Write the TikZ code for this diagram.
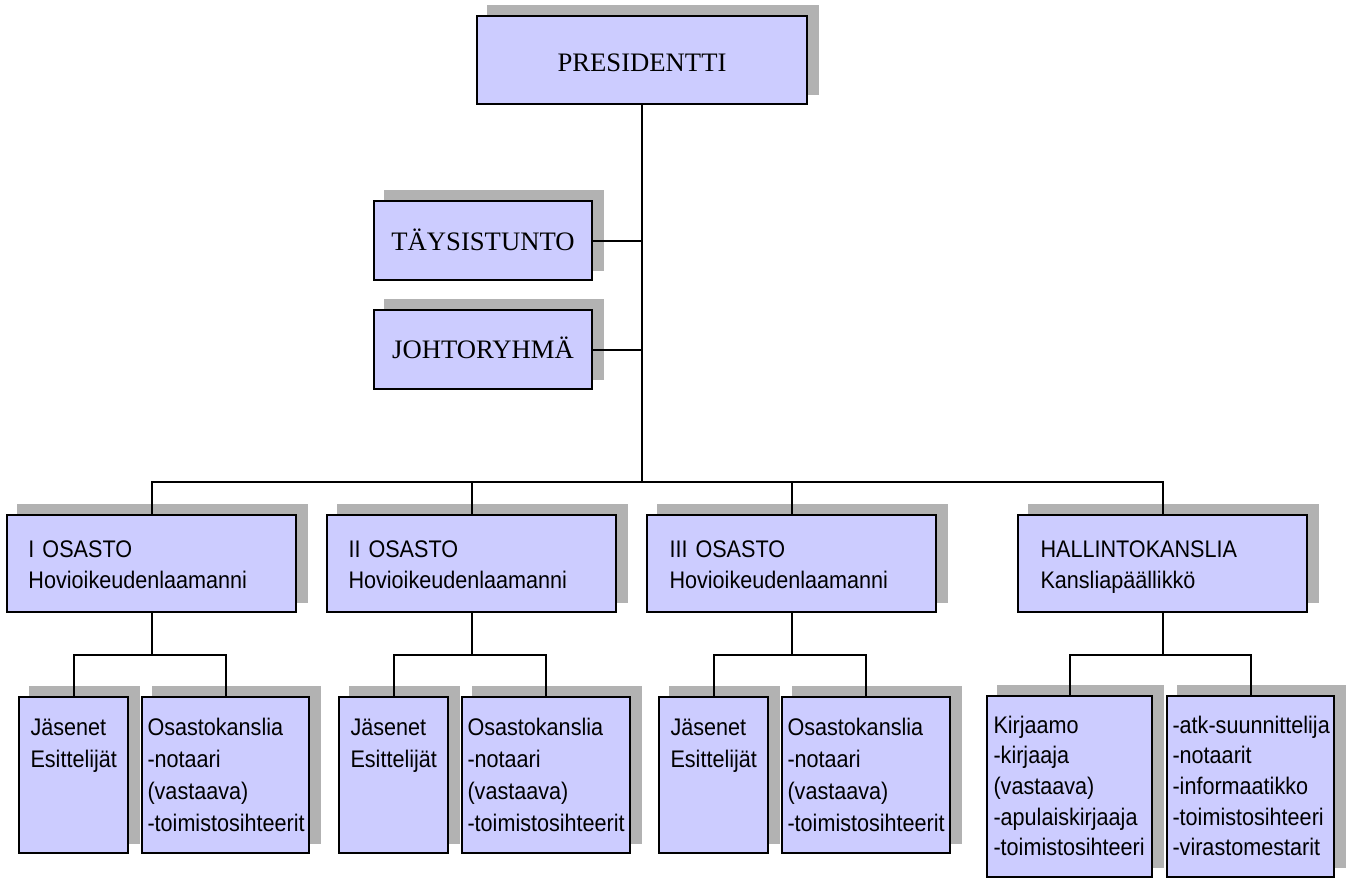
\documentclass[tikz,border=0pt]{standalone}
\usepackage{fontspec}
\setmainfont{Liberation Serif}
\setsansfont{Liberation Sans}[FakeStretch=0.9]
\usetikzlibrary{fit,backgrounds}

\definecolor{boxblue}{RGB}{204,204,255}
\definecolor{shadowgray}{RGB}{178,178,178}

\tikzset{every picture/.style={line width=0.75pt},
  orgbox/.style={draw=black, fill=boxblue, line width=1.8pt, inner sep=0pt},
  conn/.style={draw=black, line width=1.5pt},
  toptxt/.style={anchor=base, inner sep=0pt, font=\fontsize{20}{24}\selectfont},
  osatxt/.style={anchor=base west, inner sep=0pt, text width=8cm, align=left, font=\sffamily\fontsize{18}{23.25}\selectfont},
  subtxt/.style={osatxt, font=\sffamily\fontsize{18}{24}\selectfont},
  hallsubtxt/.style={osatxt, font=\sffamily\fontsize{18}{23}\selectfont}
}

\begin{document}
\begin{tikzpicture}[x=0.75pt,y=0.75pt,yscale=-1,xscale=1]
\useasboundingbox (0,0) rectangle (1348,882);

%Shape: Rectangle [top level]
\node[orgbox, fit={(477,16) (807,104)}] (pres) {};
%Shape: Rectangle
\node[orgbox, fit={(374,201) (592,280)}] (tays) {};
%Shape: Rectangle
\node[orgbox, fit={(374,310) (592,389)}] (johto) {};

%Shape: Rectangle [osastot]
\node[orgbox, fit={(7,515) (296,612)}] (osa1) {};
\node[orgbox, fit={(327,515) (616,612)}] (osa2) {};
\node[orgbox, fit={(647,515) (936,612)}] (osa3) {};
\node[orgbox, fit={(1018,515) (1307,612)}] (hall) {};

%Shape: Rectangle [bottom level]
\node[orgbox, fit={(19,697) (128,853)}] (jas1) {};
\node[orgbox, fit={(142,697) (309,853)}] (kan1) {};
\node[orgbox, fit={(339,697) (448,853)}] (jas2) {};
\node[orgbox, fit={(462,697) (630,853)}] (kan2) {};
\node[orgbox, fit={(659,697) (768,853)}] (jas3) {};
\node[orgbox, fit={(782,697) (950,853)}] (kan3) {};
\node[orgbox, fit={(987,696) (1152,877)}] (kirj) {};
\node[orgbox, fit={(1167,696) (1334,877)}] (muut) {};

%Shadows
\begin{scope}[on background layer]
\foreach \n in {pres,tays,johto,osa1,osa2,osa3,hall,jas1,kan1,jas2,kan2,jas3,kan3,kirj,muut}
  \fill[shadowgray] ([shift={(11,-10)}]\n.south west) rectangle ([shift={(11,-10)}]\n.north east);
\end{scope}

%Straight Lines
\coordinate (bus) at (642,482);
\draw[conn] (pres.south) -- (bus);
\draw[conn] (tays.east) -- (tays.east -| bus);
\draw[conn] (johto.east) -- (johto.east -| bus);
\draw[conn] (osa1.north) |- (bus) -| (hall.north);
\draw[conn] (osa2.north) -- (osa2.north |- bus);
\draw[conn] (osa3.north) -- (osa3.north |- bus);

%Straight Lines [forks]
\draw[conn] (osa1.south) -- ++(0,42) coordinate (fork1);
\draw[conn] (jas1.north) |- (fork1) -| (kan1.north);
\draw[conn] (osa2.south) -- ++(0,42) coordinate (fork2);
\draw[conn] (jas2.north) |- (fork2) -| (kan2.north);
\draw[conn] (osa3.south) -- ++(0,42) coordinate (fork3);
\draw[conn] (jas3.north) |- (fork3) -| (kan3.north);
\draw[conn] (hall.south) -- ++(0,42) coordinate (fork4);
\draw[conn] (kirj.north) |- (fork4) -| (muut.north);

% Text Node
\node[toptxt] (prest) at (642,71) {PRESIDENTTI};
% Text Node
\node[toptxt] (tayst) at (483,250) {TÄYSISTUNTO};
% Text Node
\node[toptxt] (johtot) at (483,358) {JOHTORYHMÄ};

% Text Node
\node[osatxt] (osa1t) at (28,557) {I OSASTO\\Hovioikeudenlaamanni};
% Text Node
\node[osatxt] (osa2t) at (348,557) {II OSASTO\\Hovioikeudenlaamanni};
% Text Node
\node[osatxt] (osa3t) at (669,557) {III OSASTO\\Hovioikeudenlaamanni};
% Text Node
\node[osatxt] (hallt) at (1040,557) {HALLINTOKANSLIA\\Kansliapäällikkö};

% Text Node
\node[subtxt] (jas1t) at (30,735) {Jäsenet\\Esittelijät};
% Text Node
\node[subtxt] (kan1t) at (147,735) {Osastokanslia\\-notaari\\(vastaava)\\-toimistosihteerit};
% Text Node
\node[subtxt] (jas2t) at (350,735) {Jäsenet\\Esittelijät};
% Text Node
\node[subtxt] (kan2t) at (467,735) {Osastokanslia\\-notaari\\(vastaava)\\-toimistosihteerit};
% Text Node
\node[subtxt] (jas3t) at (670,735) {Jäsenet\\Esittelijät};
% Text Node
\node[subtxt] (kan3t) at (787,735) {Osastokanslia\\-notaari\\(vastaava)\\-toimistosihteerit};
% Text Node
\node[hallsubtxt] (kirjt) at (993,733) {Kirjaamo\\-kirjaaja\\(vastaava)\\-apulaiskirjaaja\\-toimistosihteeri};
% Text Node
\node[hallsubtxt] (muutt) at (1172,733) {-atk-suunnittelija\\-notaarit\\-informaatikko\\-toimistosihteeri\\-virastomestarit};

\end{tikzpicture}
\end{document}
